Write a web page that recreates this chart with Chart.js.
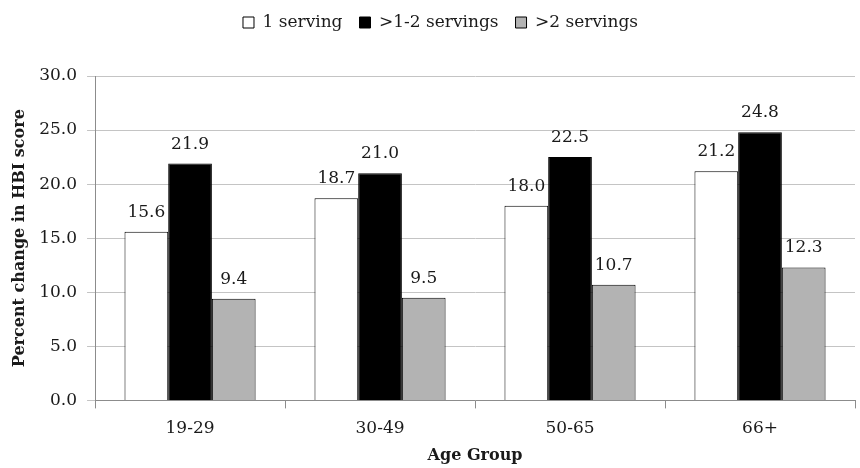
<!DOCTYPE html>
<html>
<head>
<meta charset="utf-8">
<script src="https://cdn.jsdelivr.net/npm/chart.js@4.4.1/dist/chart.umd.min.js"></script>
<style>
  html, body { margin: 0; padding: 0; background: #ffffff; }
  #wrap { width: 860px; height: 468px; position: relative; }
</style>
</head>
<body>
<div id="wrap"><canvas id="chart"></canvas></div>
<script>
// Age groups along the x axis
const ageGroups = ['19-29', '30-49', '50-65', '66+'];

// Percent change in HBI score by daily servings
const oneServing = [15.6, 18.7, 18.0, 21.2];
const oneToTwoServings = [21.9, 21.0, 22.5, 24.8];
const moreThanTwoServings = [9.4, 9.5, 10.7, 12.3];

const seriesNames = ['1 serving', '>1-2 servings', '>2 servings'];

const serif = "'DejaVu Serif', 'Liberation Serif', serif";
const ink = '#1a1a1a';

// Writes each bar's value just above it
const valueLabels = {
  id: 'valueLabels',
  afterDatasetsDraw(chart) {
    const ctx = chart.ctx;
    ctx.save();
    ctx.font = '17px ' + serif;
    ctx.fillStyle = ink;
    ctx.textAlign = 'center';
    ctx.textBaseline = 'alphabetic';
    chart.data.datasets.forEach((ds, i) => {
      const meta = chart.getDatasetMeta(i);
      meta.data.forEach((bar, j) => {
        ctx.fillText(ds.data[j].toFixed(1), bar.x, bar.y - 15);
      });
    });
    ctx.restore();
  }
};

// Leaves extra room below the legend and nudges it a little to the right
const legendTweaks = {
  id: 'legendTweaks',
  beforeInit(chart) {
    const legend = chart.legend;
    const origFit = legend.fit;
    legend.fit = function () {
      origFit.call(this);
      this.height += 35;
    };
    const origDraw = legend.draw;
    legend.draw = function () {
      const ctx = this.ctx;
      ctx.save();
      ctx.translate(8, 0);
      origDraw.call(this);
      ctx.restore();
    };
  }
};

new Chart(document.getElementById('chart'), {
  type: 'bar',
  data: {
    labels: ageGroups,
    datasets: [
      { label: seriesNames[0], data: oneServing, backgroundColor: '#ffffff', borderColor: '#000000', borderWidth: 1 },
      { label: seriesNames[1], data: oneToTwoServings, backgroundColor: '#000000', borderColor: '#000000', borderWidth: 1 },
      { label: seriesNames[2], data: moreThanTwoServings, backgroundColor: '#b3b3b3', borderColor: '#000000', borderWidth: 1 }
    ]
  },
  options: {
    responsive: true,
    maintainAspectRatio: false,
    animation: false,
    devicePixelRatio: 1,
    layout: { padding: { left: 10, right: 5, top: -3, bottom: 1 } },
    datasets: { bar: { categoryPercentage: 0.69, barPercentage: 1.0 } },
    plugins: {
      legend: {
        position: 'top',
        align: 'center',
        labels: {
          font: { family: serif, size: 17 },
          color: ink,
          boxWidth: 11,
          boxHeight: 11,
          padding: 17,
          useBorderRadius: false
        }
      },
      tooltip: { enabled: false }
    },
    scales: {
      x: {
        grid: { display: true, drawOnChartArea: false, drawTicks: true, tickLength: 8, color: '#8c8c8c', offset: true },
        border: { display: true, color: '#8c8c8c', width: 1 },
        ticks: { font: { family: serif, size: 17 }, color: ink, padding: 10 },
        title: { display: true, text: 'Age Group', font: { family: serif, size: 16, weight: 'bold' }, color: ink, padding: { top: -3, bottom: 2 } }
      },
      y: {
        min: 0,
        max: 30,
        ticks: { stepSize: 5, callback: v => v.toFixed(1), font: { family: serif, size: 17 }, color: ink, padding: 10 },
        grid: { color: '#c4c4c4', tickLength: 8, drawTicks: true },
        border: { display: true, color: '#8c8c8c', width: 1 },
        title: { display: true, text: 'Percent change in HBI score', font: { family: serif, size: 16, weight: 'bold' }, color: ink, padding: { top: 0, bottom: 0 } }
      }
    }
  },
  plugins: [valueLabels, legendTweaks]
});
</script>
</body>
</html>
